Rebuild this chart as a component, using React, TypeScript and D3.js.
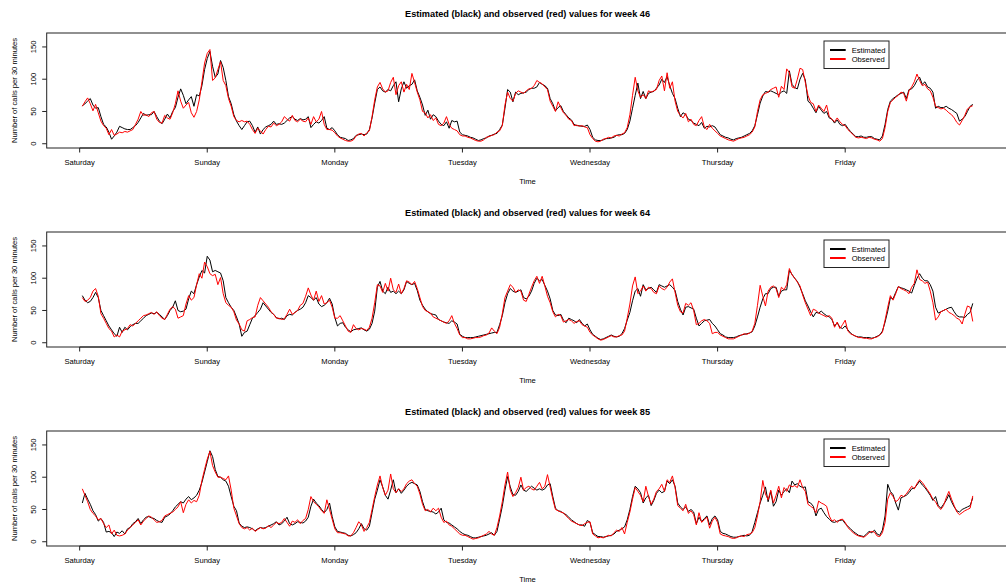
import * as d3 from "d3";

const days = ["Saturday", "Sunday", "Monday", "Tuesday", "Wednesday", "Thursday", "Friday"];
const yTicks = [0, 50, 100, 150];
const weeks = [46, 64, 85];
const legendLabels = ["Estimated", "Observed"];

// week 46, half-hourly calls, Saturday -> Friday
const est46 = [
  59,62,66,70,60,55,56,42,30,26,18,7,12,18,27,25,23,22,22,25,28,33,40,47,44,45,45,50,42,35,31,38,46,40,50,56,72,85,75,62,68,73,58,76,74,90,115,132,
  143,120,103,108,129,118,98,73,62,45,35,28,22,28,34,35,28,18,26,15,22,26,28,30,35,30,31,30,32,36,40,42,38,36,39,37,38,42,25,30,34,32,36,42,24,22,25,20,
  14,10,9,8,5,6,8,13,14,15,14,15,22,40,63,84,88,82,80,84,82,90,96,65,85,96,86,90,92,99,82,72,60,44,52,38,45,42,35,30,28,34,24,36,34,35,18,14,
  13,12,10,9,7,5,6,8,9,12,13,15,16,22,29,55,84,80,65,80,76,78,79,80,84,86,86,88,95,92,90,86,70,62,51,56,59,50,45,40,37,30,28,28,27,27,29,22,
  10,6,5,5,6,8,8,9,10,13,14,14,16,22,35,55,75,94,70,81,70,78,80,81,86,91,100,95,104,90,78,70,55,42,48,45,38,36,32,30,28,33,24,27,26,28,26,20,
  14,12,10,9,7,6,8,9,10,12,14,16,20,28,45,63,74,81,80,82,80,78,76,80,82,78,113,92,87,85,100,109,99,66,62,55,48,58,52,47,50,40,38,32,37,30,28,30,
  24,19,15,11,11,12,10,10,11,11,8,7,6,12,30,53,66,70,73,76,78,80,70,84,85,90,98,103,92,96,88,86,80,55,58,56,56,58,55,53,50,47,35,38,42,50,58,61,
];
const obs46 = [
  58,65,71,62,51,61,48,35,28,24,14,22,13,15,18,17,19,18,20,22,30,38,50,44,45,42,48,50,38,33,32,44,40,38,48,62,82,66,55,60,64,48,41,50,68,96,125,140,
  146,98,102,115,127,98,90,70,58,42,36,34,36,34,35,30,22,16,24,20,15,22,27,26,32,28,30,34,42,38,35,44,36,34,38,35,34,40,30,42,34,38,50,30,22,22,21,17,
  12,9,7,5,4,4,6,12,15,16,12,17,20,42,68,88,95,85,80,82,95,103,76,90,96,80,92,84,109,95,80,68,50,48,40,45,36,40,30,28,32,42,30,24,22,20,14,12,
  12,10,9,7,5,4,4,6,10,11,13,14,18,20,28,60,80,70,66,78,82,80,78,82,85,86,90,98,95,93,88,84,66,58,50,65,56,48,44,38,36,28,29,27,28,26,25,14,
  8,4,3,4,7,8,10,9,12,13,12,15,17,25,45,75,103,82,72,76,70,82,80,82,84,98,105,82,110,86,96,66,50,44,40,47,34,38,30,28,36,42,26,22,30,24,20,16,
  12,10,8,6,5,4,6,8,9,10,12,14,18,26,50,68,76,78,80,84,86,88,72,89,84,116,110,88,86,100,117,115,95,75,64,62,50,60,55,50,60,42,38,34,40,34,30,28,
  22,18,14,10,9,10,9,8,10,9,7,6,4,8,25,50,64,68,72,75,80,78,66,82,88,96,108,98,90,92,85,82,72,58,56,54,55,52,48,45,40,33,29,36,44,54,57,59,
];

// week 64
const est64 = [
  73,66,62,64,70,78,70,50,42,34,26,20,14,10,24,16,24,20,25,28,30,30,34,38,42,44,46,45,47,44,40,36,42,50,55,65,50,48,49,52,68,80,76,90,102,112,108,134,
  128,110,112,110,108,96,70,62,55,50,40,29,10,16,18,28,38,42,47,52,62,57,52,47,44,39,37,38,36,42,44,43,47,50,52,55,62,73,70,66,70,60,56,58,62,69,60,39,
  26,30,31,24,20,17,20,21,22,23,20,18,21,30,49,86,95,80,76,86,78,80,76,80,76,82,95,92,90,92,81,66,58,52,48,45,44,43,36,34,32,31,30,34,32,29,13,10,
  8,8,8,8,9,10,11,12,13,14,15,16,16,28,42,62,76,84,80,78,80,82,70,68,72,80,92,100,96,98,89,80,68,50,43,42,44,35,31,38,36,34,31,36,30,26,29,20,
  13,10,7,5,6,8,10,12,10,9,10,14,22,35,47,65,80,84,72,90,82,84,86,82,78,90,88,86,88,90,86,81,64,52,43,55,56,54,52,38,26,30,34,35,36,30,26,20,
  14,12,9,8,8,8,9,11,12,13,14,15,17,26,40,55,68,76,76,84,86,86,72,80,82,82,112,106,100,95,86,76,65,57,48,40,47,46,49,45,42,40,36,26,31,24,22,26,
  20,15,12,10,9,9,8,8,8,7,8,10,12,18,32,49,70,68,78,87,85,84,82,80,77,89,100,107,100,96,96,90,80,55,46,48,50,52,54,55,48,42,40,40,39,44,47,61,
];
const obs64 = [
  70,64,66,70,80,84,72,45,38,30,22,18,9,12,9,18,20,22,28,26,30,34,38,42,43,45,47,44,48,42,38,36,44,52,56,52,38,40,42,60,73,66,70,90,107,100,125,118,
  107,104,106,90,101,76,62,58,55,48,35,29,20,18,34,36,39,40,58,70,65,60,55,48,44,38,38,36,37,44,52,44,47,50,58,61,72,85,74,66,80,64,73,60,62,66,55,38,
  38,42,34,26,18,16,28,22,20,22,21,19,24,38,62,90,88,78,92,80,100,82,78,91,76,84,96,94,90,95,84,70,56,50,48,46,40,38,36,34,32,30,34,42,30,22,12,8,
  8,6,6,7,8,8,9,11,12,15,23,18,14,24,45,70,80,90,86,78,82,80,66,64,75,86,96,103,92,103,88,72,62,48,40,44,42,32,34,36,34,30,33,34,28,26,24,16,
  12,9,6,4,5,7,9,11,9,9,11,12,18,38,60,88,102,76,80,88,80,86,84,78,76,88,84,82,86,94,99,78,58,48,46,61,58,62,50,28,30,34,36,34,30,14,16,16,
  12,10,8,6,6,6,8,10,12,14,13,15,18,30,58,89,72,57,80,86,88,84,70,86,82,90,115,105,100,94,88,74,62,52,42,52,50,46,44,42,40,42,38,24,32,22,28,35,
  18,14,12,10,8,8,7,7,6,6,8,9,12,16,35,55,73,66,76,87,84,82,80,76,86,92,113,98,96,92,94,80,62,35,40,48,50,52,47,45,42,38,36,29,44,57,55,33,
];

// week 85
const est85 = [
  60,75,66,58,48,42,32,36,30,15,16,14,8,15,13,17,12,20,22,28,31,36,28,34,38,39,37,36,33,31,30,38,40,43,48,54,58,62,60,66,70,65,68,72,80,92,108,124,
  141,132,112,101,100,96,94,86,70,55,48,29,24,22,23,22,20,17,20,22,21,22,24,26,28,31,26,28,32,38,28,26,28,31,30,29,32,38,55,66,60,56,50,45,50,60,39,23,
  16,15,14,13,10,9,11,14,20,28,20,18,24,45,66,80,96,85,72,66,80,96,76,82,75,80,86,90,92,90,88,78,62,50,48,47,46,43,46,52,34,30,29,26,23,20,16,13,
  11,10,8,6,6,7,8,9,10,12,14,10,16,35,55,80,101,85,73,72,78,88,80,78,82,86,83,80,82,80,82,88,90,70,52,48,47,44,42,38,34,31,28,26,26,24,33,30,
  14,11,8,8,7,8,9,10,12,16,18,20,23,34,50,70,86,82,76,60,68,72,56,64,75,80,76,78,94,90,96,86,60,54,50,54,47,50,46,28,38,31,36,40,26,36,40,34,
  16,13,12,10,8,7,7,8,9,10,9,10,16,30,45,60,72,85,62,78,55,62,80,72,78,82,76,94,88,90,86,84,85,62,60,55,40,50,52,45,39,35,31,30,32,33,34,28,
  24,20,16,13,10,9,8,12,16,14,18,12,10,18,40,89,78,73,60,49,68,70,72,76,82,83,88,94,88,84,78,72,64,70,56,52,58,64,73,62,54,48,46,50,52,54,56,68,
];
const obs85 = [
  82,72,62,50,44,40,34,36,28,22,26,12,18,10,9,10,12,18,22,26,30,34,26,32,36,40,38,34,30,31,33,40,42,44,46,50,54,62,45,58,65,60,64,62,72,95,112,128,
  140,118,108,100,100,98,96,102,80,52,40,28,22,20,22,18,21,16,19,22,20,21,25,22,26,30,28,30,36,30,24,32,30,34,28,33,36,50,70,62,58,54,48,44,65,50,35,20,
  14,14,13,12,9,9,14,22,31,26,16,22,30,50,70,88,102,84,72,80,105,82,76,82,78,82,90,94,96,90,86,74,58,48,50,46,52,48,52,38,30,32,26,24,20,16,12,10,
  10,8,6,4,5,6,8,10,12,16,12,10,22,40,62,88,108,80,70,76,84,100,80,84,86,82,80,86,92,82,86,104,85,66,50,48,46,45,40,36,32,30,28,26,25,28,30,31,
  12,9,6,7,6,8,10,9,14,18,16,22,12,30,46,66,84,78,72,62,86,70,58,66,78,82,89,78,96,92,102,84,56,52,48,58,44,48,42,26,45,30,34,38,21,32,38,30,
  12,10,9,8,6,5,6,8,9,8,11,12,14,22,40,62,95,74,65,80,60,72,86,68,84,78,88,85,87,84,96,84,78,58,55,52,45,63,60,58,55,40,32,34,30,34,35,30,
  22,18,14,11,9,8,7,10,14,16,15,9,8,14,30,66,76,70,62,65,72,70,74,80,86,82,90,96,92,86,80,74,66,62,54,50,56,68,78,66,56,46,42,45,48,50,52,71,
];

const estimated = [est46, est64, est85];
const observed = [obs46, obs64, obs85];

const W = 1006;
const H = 585;
const left = 46.7;
const right = 1008.4;
const firstTop = 33;
const step = 199;
const plotH = 115;
const font = "'Liberation Sans', Arial, Helvetica, sans-serif";

const x = d3.scaleLinear().domain([-12.4, 349.4]).range([left, right]);

function Panel({ k }: { k: number }) {
  const top = firstTop + k * step;
  const bottom = top + plotH;
  const y = d3.scaleLinear().domain([-6.6, 171.6]).range([bottom, top]);
  const line = d3
    .line<number>()
    .x((_, i) => x(i + 1))
    .y((d) => y(d));
  const cx = (left + right) / 2;
  const midY = (top + bottom) / 2;
  const dayTicks = days.map((_, i) => i * 48);

  return (
    <g>
      <text x={cx} y={top - 16} textAnchor="middle" fontSize={9.2} fontWeight="bold" fontFamily={font}>
        {`Estimated (black) and observed (red) values for week ${weeks[k]}`}
      </text>
      <path d={line(estimated[k]) || ""} fill="none" stroke="#000" strokeWidth={1} />
      <path d={line(observed[k]) || ""} fill="none" stroke="#ff0000" strokeWidth={1} />
      <rect x={left} y={top} width={right - left} height={plotH} fill="none" stroke="#222" strokeWidth={1} />

      {/* x axis */}
      <line x1={x(dayTicks[0])} x2={x(dayTicks[dayTicks.length - 1])} y1={bottom} y2={bottom} stroke="#222" />
      {dayTicks.map((t, i) => (
        <g key={i}>
          <line x1={x(t)} x2={x(t)} y1={bottom} y2={bottom + 4.5} stroke="#222" />
          <text x={x(t)} y={bottom + 16.7} textAnchor="middle" fontSize={7.6} fontFamily={font}>
            {days[i]}
          </text>
        </g>
      ))}
      <text x={cx} y={bottom + 35.7} textAnchor="middle" fontSize={7.6} fontFamily={font}>
        Time
      </text>

      {/* y axis */}
      {yTicks.map((t) => (
        <g key={t}>
          <line x1={left - 4.5} x2={left} y1={y(t)} y2={y(t)} stroke="#222" />
          <text
            transform={`translate(${35.7},${y(t)}) rotate(-90)`}
            textAnchor="middle"
            fontSize={7.6}
            fontFamily={font}
          >
            {t}
          </text>
        </g>
      ))}
      <text transform={`translate(${16.7},${midY}) rotate(-90)`} textAnchor="middle" fontSize={7.6} fontFamily={font}>
        Number of calls per 30 minutes
      </text>

      {/* legend */}
      <rect x={824} y={top + 8} width={65} height={27.5} fill="#fff" stroke="#222" strokeWidth={1} />
      {legendLabels.map((lab, i) => (
        <g key={lab}>
          <line
            x1={830}
            x2={845.7}
            y1={top + 17 + i * 9}
            y2={top + 17 + i * 9}
            stroke={i === 0 ? "#000" : "#ff0000"}
            strokeWidth={2}
          />
          <text x={851.7} y={top + 19.8 + i * 9} fontSize={7.6} fontFamily={font}>
            {lab}
          </text>
        </g>
      ))}
    </g>
  );
}

export default function App() {
  return (
    <svg
      width={W}
      height={H}
      style={{ position: "absolute", left: 0, top: 0, background: "#fff" }}
    >
      <rect width={W} height={H} fill="#fff" />
      {weeks.map((_, k) => (
        <Panel key={k} k={k} />
      ))}
    </svg>
  );
}
